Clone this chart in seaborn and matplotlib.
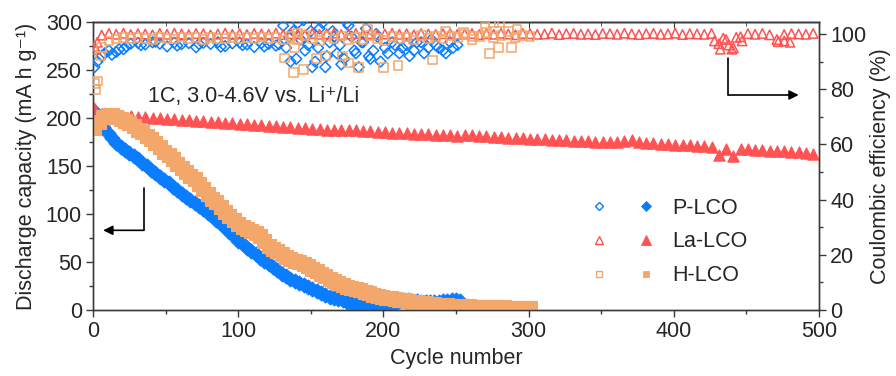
import matplotlib
matplotlib.use("Agg")
import matplotlib.pyplot as plt
from matplotlib.lines import Line2D
from matplotlib.legend_handler import HandlerTuple
from matplotlib.ticker import MultipleLocator
import pandas as pd
import seaborn as sns

# ---------------------------------------------------------------- data
# cycle numbers sampled for each cell
p_cycles = list(range(1, 254, 3))
la_cycles = list(range(1, 497, 5))
h_cycles = list(range(1, 303, 3))
p_ce_cycles = list(range(1, 252, 5))
h_ce_cycles = list(range(1, 302, 5))

# discharge capacity, mA h g-1
p_capacity = [207, 198, 191, 184, 179, 174, 170, 167, 164, 160,
              157, 153, 150, 146, 143, 139, 135, 132, 128, 125,
              121, 118, 115, 111, 108, 105, 101, 98, 94, 90,
              86, 81, 77, 72, 69, 65, 61, 58, 54, 51,
              48, 45, 42, 38, 35, 32, 30, 28, 26, 24,
              22, 20, 18, 16, 14, 13, 11, 10, 8, 7,
              6, 5, 5, 4, 4, 3, 3, 3, 4, 6,
              9, 10, 10, 9, 9, 8, 8, 8, 8, 8,
              9, 9, 10, 10, 9]
la_capacity = [210, 204, 203, 203, 202, 202, 201, 201, 200, 200,
               199, 199, 198, 198, 197, 197, 196, 196, 195, 195,
               194, 194, 193, 193, 192, 192, 191, 191, 190, 190,
               189, 189, 188, 188, 188, 187, 187, 186, 186, 185,
               185, 184, 184, 184, 183, 183, 183, 182, 182, 182,
               181, 182, 182, 181, 181, 180, 180, 179, 179, 179,
               178, 178, 178, 177, 177, 177, 176, 176, 176, 175,
               175, 175, 175, 176, 177, 175, 174, 174, 173, 173,
               172, 172, 172, 171, 171, 170, 161, 168, 160, 168,
               168, 167, 167, 166, 166, 166, 165, 165, 164, 162]
h_capacity = [190, 196, 201, 203, 203, 201, 199, 197, 195, 192,
              188, 185, 181, 178, 174, 170, 165, 161, 157, 152,
              148, 144, 140, 136, 131, 126, 121, 116, 112, 107,
              102, 98, 94, 90, 86, 84, 82, 80, 77, 72,
              67, 64, 61, 58, 55, 53, 51, 50, 48, 46,
              43, 41, 38, 35, 32, 30, 28, 26, 24, 23,
              22, 21, 19, 18, 16, 15, 14, 13, 12, 11,
              10, 10, 9, 8, 8, 7, 7, 6, 6, 5,
              5, 5, 4, 4, 4, 4, 4, 3, 3, 3,
              3, 3, 3, 3, 3, 2, 2, 2, 2, 2,
              2]

# coulombic efficiency, %
p_ce = [88.0, 92.0, 94.0, 93.5, 94.5, 96.5, 96.8, 96.2, 97.0, 96.5,
        95.5, 96.9, 96.3, 96.7, 95.2, 96.8, 96.4, 97.0, 95.6, 96.6,
        96.9, 96.2, 95.3, 96.7, 96.4, 95.8, 103.0, 90.0, 104.0, 94.0,
        88.0, 102.0, 92.0, 99.0, 89.0, 103.0, 93.0, 97.0, 91.0, 99.0,
        95.0, 97.0, 93.0, 96.0, 94.0, 97.0, 95.0, 96.0, 94.0, 97.0,
        96.0]
la_ce = [95.5, 99.6, 100.2, 99.9, 100.3, 99.8, 100.1, 100.0, 99.7, 100.2,
         99.9, 100.3, 100.0, 99.8, 100.2, 100.1, 99.7, 100.0, 100.3, 99.9,
         100.1, 99.8, 100.2, 100.0, 99.9, 100.3, 99.8, 100.1, 100.0, 99.7,
         100.2, 99.9, 100.1, 100.3, 99.8, 100.0, 100.2, 99.9, 100.1, 99.8,
         100.0, 100.3, 99.9, 100.1, 99.7, 100.2, 100.0, 99.8, 100.1, 100.3,
         99.9, 100.0, 100.2, 99.8, 100.1, 99.9, 100.3, 100.0, 99.7, 100.2,
         100.1, 99.9, 100.0, 100.3, 99.8, 100.1, 100.2, 99.9, 100.0, 99.8,
         100.2, 100.1, 99.9, 100.3, 100.0, 99.8, 100.1, 100.2, 99.9, 100.0,
         100.3, 99.8, 100.1, 100.0, 99.9, 100.2, 96.5, 98.0, 95.0, 99.0,
         100.1, 99.9, 100.2, 99.7, 98.0, 99.8, 100.1, 100.0, 99.9, 100.2]
h_ce = [82.0, 95.0, 97.5, 98.2, 98.6, 98.3, 98.8, 98.4, 98.1, 98.7,
        98.5, 98.2, 98.9, 98.4, 98.6, 98.1, 98.7, 98.3, 98.5, 98.8,
        98.2, 98.6, 98.4, 98.9, 98.3, 98.7, 97.8, 99.2, 98.0, 99.5,
        98.4, 97.6, 99.0, 98.2, 99.3, 97.9, 98.8, 98.1, 99.4, 98.5,
        97.7, 99.1, 98.3, 98.9, 97.8, 99.6, 98.4, 99.0, 98.2, 99.3,
        98.6, 99.8, 98.0, 99.2, 100.5, 98.6, 99.4, 101.0, 98.8, 99.6, 99.2]

# scattered efficiency readings between the sampled cycles
p_ce_extra_cycles = [3, 8, 13, 18, 23, 33, 43, 58, 73, 88, 103, 118, 128,
                     133, 135, 138, 140, 143, 145, 148, 150, 153,
                     155, 158, 160, 163, 165, 168, 170, 173, 175, 178, 180,
                     183, 185, 188, 190, 193, 195, 198, 203, 208, 213, 218,
                     223, 228, 233, 238, 243, 248]
p_ce_extra = [90.0, 93.0, 92.5, 94.5, 95.5, 96.0, 97.2, 95.8, 96.4, 95.4, 96.0,
              95.5, 96.3,
              95, 99, 101, 91, 98, 105, 96, 101, 90,
              95, 104, 88, 97, 101, 93, 96, 91, 104, 99, 94,
              88, 97, 102, 92, 94, 100, 90, 93, 96, 95, 92,
              97, 93, 98, 95, 93, 95]
la_ce_extra_cycles = [2, 3, 428, 432, 434, 438, 440, 443, 447, 472, 476, 480]
la_ce_extra = [94.5, 97.0, 97.5, 94.5, 98.5, 96.0, 94.5, 98.8, 97.5, 97.2, 97.5, 97.0]
h_ce_extra_cycles = [2, 3, 5, 132, 138, 139, 141, 145, 154, 160, 172, 176, 183,
                     189, 200, 210, 234, 243, 255, 262, 270, 273, 276, 279, 280,
                     288, 292]
h_ce_extra = [80.0, 83.0, 92.0, 91.3, 86.0, 95.0, 100.4, 87.0, 91.0, 92.0, 92.0,
              89.5, 88.0, 101.5, 88.0, 88.5, 90.6, 101.0, 100.5, 99.0, 102.5,
              93.0, 104.0, 95.0, 104.0, 95.0, 101.5]

labels = ["P-LCO", "La-LCO", "H-LCO"]
colors = ["#0A7DFF", "#FF5252", "#F3A76A"]
markers = ["D", "^", "s"]

# ---------------------------------------------------------------- style
sns.set_style("ticks")
plt.rcParams["font.family"] = ["Liberation Sans", "DejaVu Sans"]
plt.rcParams["font.size"] = 15.5
plt.rcParams["axes.linewidth"] = 1.0

fig = plt.figure(figsize=(8.96, 3.76), dpi=100)
ax = fig.add_axes([93 / 896, 66 / 376, 726 / 896, 288 / 376])
ax2 = ax.twinx()

cap_frames = [
    pd.DataFrame({"cycle": p_cycles, "value": p_capacity}),
    pd.DataFrame({"cycle": la_cycles, "value": la_capacity}),
    pd.DataFrame({"cycle": h_cycles, "value": h_capacity}),
]
ce_frames = [
    pd.concat([pd.DataFrame({"cycle": p_ce_cycles, "value": p_ce}),
               pd.DataFrame({"cycle": p_ce_extra_cycles, "value": p_ce_extra})]),
    pd.concat([pd.DataFrame({"cycle": la_cycles, "value": la_ce}),
               pd.DataFrame({"cycle": la_ce_extra_cycles, "value": la_ce_extra})]),
    pd.concat([pd.DataFrame({"cycle": h_ce_cycles, "value": h_ce}),
               pd.DataFrame({"cycle": h_ce_extra_cycles, "value": h_ce_extra})]),
]

filled_sizes = [58, 66, 95]
open_sizes = [30, 46, 40]

for df, c, m, s in zip(cap_frames, colors, markers, filled_sizes):
    sns.scatterplot(data=df, x="cycle", y="value", marker=m, s=s, color=c,
                    edgecolor=c, linewidth=0.8, legend=False, ax=ax, zorder=3)

for df, c, m, s in zip(ce_frames, colors, markers, open_sizes):
    sns.scatterplot(data=df, x="cycle", y="value", marker=m, s=s,
                    facecolor="none", edgecolor=c, linewidth=1.1,
                    legend=False, ax=ax2, zorder=3)

# ---------------------------------------------------------------- axes
ax.set_xlim(0, 500)
ax.set_ylim(0, 300)
ax2.set_ylim(0, 104.35)
ax.xaxis.set_major_locator(MultipleLocator(100))
ax.xaxis.set_minor_locator(MultipleLocator(50))
ax.yaxis.set_major_locator(MultipleLocator(50))
ax.yaxis.set_minor_locator(MultipleLocator(25))
ax2.yaxis.set_major_locator(MultipleLocator(20))
ax2.yaxis.set_minor_locator(MultipleLocator(10))

spine_color = "#3a3a3a"
for a in (ax, ax2):
    for sp in a.spines.values():
        sp.set_color(spine_color)
        sp.set_linewidth(1.0)
    a.tick_params(which="major", length=5, width=1.0, color=spine_color,
                  labelsize=15.5, pad=3)
    a.tick_params(which="minor", length=3, width=1.0, color=spine_color)

top = ax.secondary_xaxis("top")
top.xaxis.set_major_locator(MultipleLocator(100))
top.xaxis.set_minor_locator(MultipleLocator(50))
top.tick_params(which="both", direction="in", labeltop=False, color=spine_color)
top.tick_params(which="major", length=4)
top.tick_params(which="minor", length=3)
top.spines["top"].set_color(spine_color)

ax.set_xlabel("Cycle number", fontsize=15.5, labelpad=4)
ax.set_ylabel("Discharge capacity (mA h g\u207b\u00b9)", fontsize=15.5, labelpad=6)
ax2.set_ylabel("Coulombic efficiency (%)", fontsize=15.5, labelpad=3)

ax.text(38, 222, "1C, 3.0-4.6V vs. Li\u207a/Li", fontsize=15.5, va="center", ha="left")

# axis pointer arrows
arrow_kw = dict(arrowstyle="-|>", color="black", lw=1.2, mutation_scale=14,
                shrinkA=0, shrinkB=0)
ax.plot([35, 35], [127, 83], color="black", lw=1.2)
ax.annotate("", xy=(7, 83), xytext=(35, 83), arrowprops=arrow_kw)
ax2.plot([437.5, 437.5], [91.2, 77.9], color="black", lw=1.2)
ax2.annotate("", xy=(486, 77.9), xytext=(437.5, 77.9), arrowprops=arrow_kw)

# legend: open (efficiency) and filled (capacity) markers per cell
legend_open_ms = [4.2, 5.8, 5.0]
legend_filled_ms = [5.2, 6.5, 5.0]
handles = []
for c, m, mo, mf in zip(colors, markers, legend_open_ms, legend_filled_ms):
    h_open = Line2D([], [], ls="", marker=m, ms=mo, mfc="none", mec=c, mew=1.0)
    h_fill = Line2D([], [], ls="", marker=m, ms=mf, mfc=c, mec=c, mew=0.6)
    handles.append((h_open, h_fill))
leg = ax2.legend(handles, labels, handler_map={tuple: HandlerTuple(ndivide=None, pad=1.0)},
                 handlelength=3.3, handletextpad=0.67, labelspacing=0.6,
                 frameon=False, fontsize=15.5, borderpad=0, borderaxespad=0,
                 loc="center left", bbox_to_anchor=(587 / 896, (376 - 242) / 376),
                 bbox_transform=fig.transFigure)

fig.savefig("out.png", dpi=100)
